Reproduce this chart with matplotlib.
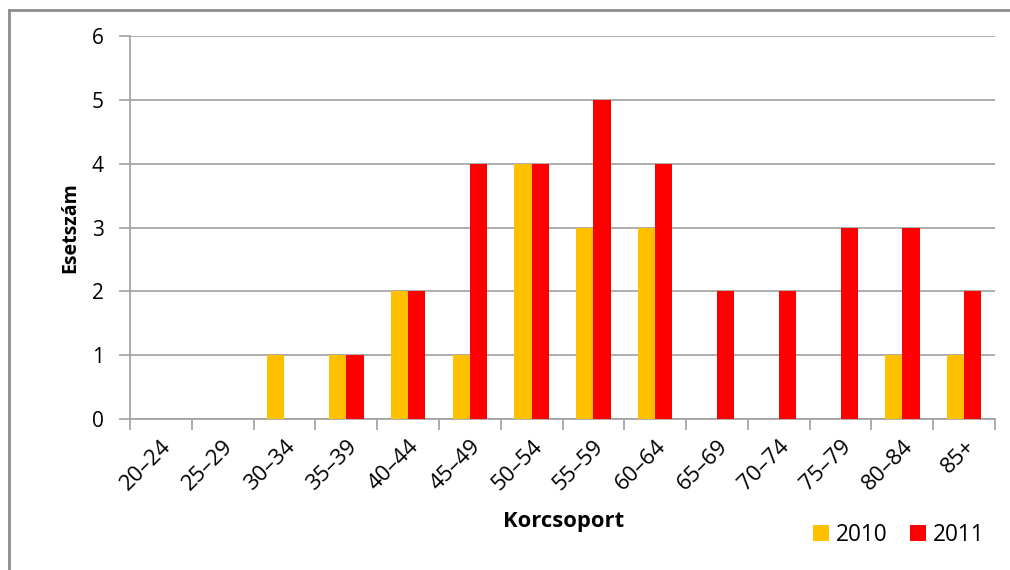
import matplotlib
matplotlib.use("Agg")
import matplotlib.pyplot as plt
import numpy as np
from matplotlib.lines import Line2D

categories = ["20–24", "25–29", "30–34", "35–39", "40–44", "45–49", "50–54",
              "55–59", "60–64", "65–69", "70–74", "75–79", "80–84", "85+"]
values_2010 = [0, 0, 1, 1, 2, 1, 4, 3, 3, 0, 0, 0, 1, 1]
values_2011 = [0, 0, 0, 1, 2, 4, 4, 5, 4, 2, 2, 3, 3, 2]
series_labels = ["2010", "2011"]

plt.rcParams['font.family'] = ['Open Sans', 'DejaVu Sans']

fig = plt.figure(figsize=(10.1, 5.7), dpi=100)
ax = fig.add_axes([130/1010, 1-419/570, 865/1010, 383/570])

x = np.arange(len(categories))
w = 0.28
c2010 = "#FFC000"
c2011 = "#FF0000"
ax.bar(x - w/2, values_2010, width=w, color=c2010, label=series_labels[0], zorder=3)
ax.bar(x + w/2, values_2011, width=w, color=c2011, label=series_labels[1], zorder=3)

ax.set_xlim(-0.5, len(categories) - 0.5)
ax.set_ylim(0, 6)
ax.set_yticks(range(0, 7))
ax.yaxis.grid(True, color="#A0A0A0", linewidth=1.2, zorder=0)
ax.set_axisbelow(True)

ax.set_xticks(x)
ax.set_xticklabels(categories, rotation=45, ha="right", rotation_mode="anchor", fontsize=16)
ax.tick_params(axis="x", length=0, pad=12)
ax.set_xticks(np.arange(-0.5, len(categories)), minor=True)
ax.tick_params(axis="x", which="minor", length=8, color="#A0A0A0", width=1.2)
ax.tick_params(axis="y", length=8, color="#A0A0A0", width=1.2, labelsize=15, pad=11)

for s in ["top", "right"]:
    ax.spines[s].set_visible(False)
for s in ["left", "bottom"]:
    ax.spines[s].set_color("#A0A0A0")
    ax.spines[s].set_linewidth(1.2)

fig.text(70/1010, 1-228/570, "Esetszám", rotation=90, fontsize=14, fontweight="bold",
         ha="center", va="center")
fig.text(564/1010, 1-521/570, "Korcsoport", fontsize=15.8, fontweight="bold",
         ha="center", va="center")

leg = ax.legend(loc="center", bbox_to_anchor=(899/1010, 1-535/570),
                bbox_transform=fig.transFigure, ncol=2, frameon=False,
                fontsize=16.3, handlelength=0.7, handleheight=0.7,
                handletextpad=0.3, columnspacing=1.0)

# Figure border (top and left visible)
fig.add_artist(Line2D([9/1010, 9/1010], [0, 1-10/570], transform=fig.transFigure,
                      color="#8C8C8C", linewidth=2))
fig.add_artist(Line2D([9/1010, 1], [1-10/570, 1-10/570], transform=fig.transFigure,
                      color="#8C8C8C", linewidth=2))

fig.savefig("out.png", dpi=100)
